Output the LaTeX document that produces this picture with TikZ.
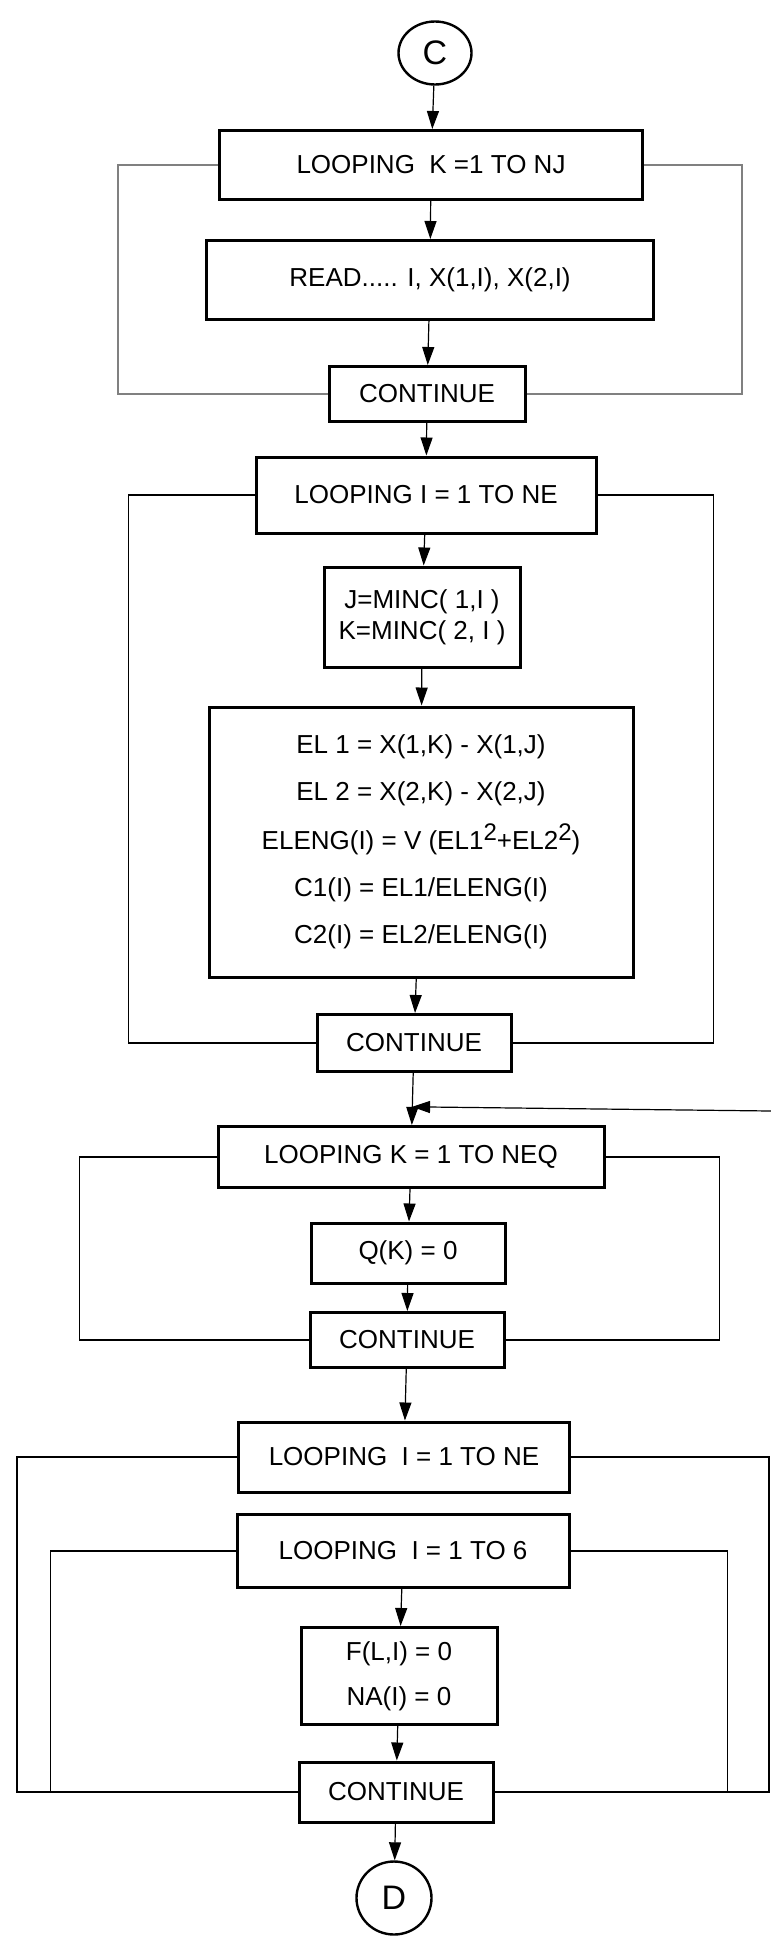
\documentclass[tikz,border=0pt]{standalone}
\usepackage{fontspec}
\setmainfont{Liberation Sans}
\usetikzlibrary{arrows.meta,shapes.geometric,calc}
\tikzset{flowpic/.style={x=0.5pt,y=-0.5pt,font=\fontsize{13}{15.5}\selectfont,
    >={Triangle[length=9pt,width=6pt]}},
  stepbox/.style={draw,line width=1.5pt,inner sep=0pt,align=center},
  connbox/.style={draw,ellipse,line width=1.2pt,inner sep=0pt,font=\fontsize{17}{20}\selectfont},
  arr/.style={->,line width=0.6pt},
  loopline/.style={line width=0.6pt}}
\newcommand{\sqr}{\raisebox{.35em}{\fontsize{12}{12}\selectfont 2}}

\begin{document}
\begin{tikzpicture}[flowpic]
    \useasboundingbox (0,0) rectangle (771,1944);
    \node[connbox,minimum width=36.5pt,minimum height=31.5pt] (cc) at (435,53) {C};
    \node[stepbox,minimum width=211.5pt,minimum height=34.5pt] (lk1) at (431,165) {LOOPING\ \ K =1 TO NJ};
    \node[stepbox,minimum width=223.5pt,minimum height=39.5pt] (rd) at (430,280) {READ..... I, X(1,I), X(2,I)};
    \node[stepbox,minimum width=98pt,minimum height=27.5pt] (ct1) at (427,394) {CONTINUE};
    \node[stepbox,minimum width=170pt,minimum height=38pt] (li1) at (426,495) {LOOPING I = 1 TO NE};
    \node[stepbox,minimum width=98pt,minimum height=50pt] (mc) at (422,617) {J=MINC( 1,I )\\K=MINC( 2, I )};
    \node[stepbox,minimum width=212pt,minimum height=135pt] (el) at (421,842)
      {EL 1 = X(1,K) - X(1,J)\\[8pt] EL 2 = X(2,K) - X(2,J)\\[8pt]
       ELENG(I) = V (EL1\sqr+EL2\sqr)\\[8pt] C1(I) = EL1/ELENG(I)\\[8pt] C2(I) = EL2/ELENG(I)};
    \node[stepbox,minimum width=97pt,minimum height=28.5pt] (ct2) at (414,1043) {CONTINUE};
    \node[stepbox,minimum width=193pt,minimum height=30.5pt] (lk2) at (411,1157) {LOOPING K = 1 TO NEQ};
    \node[stepbox,minimum width=97pt,minimum height=30pt] (qk) at (408,1253) {Q(K) = 0};
    \node[stepbox,minimum width=97pt,minimum height=27.5pt] (ct3) at (407,1340) {CONTINUE};
    \node[stepbox,minimum width=165.5pt,minimum height=35pt] (li2) at (404,1457) {LOOPING\ \ I = 1 TO NE};
    \node[stepbox,minimum width=166pt,minimum height=36.5pt] (li3) at (403,1551) {LOOPING\ \ I = 1 TO 6};
    \node[stepbox,minimum width=98pt,minimum height=48.5pt] (fl) at (399,1676) {F(L,I) = 0\\[7pt] NA(I) = 0};
    \node[stepbox,minimum width=97pt,minimum height=30pt] (ct4) at (396,1792) {CONTINUE};
    \node[connbox,minimum width=37.5pt,minimum height=36.5pt] (dd) at (394,1898) {D};
    \foreach \a/\b in {cc/lk1,lk1/rd,rd/ct1,ct1/li1,li1/mc,mc/el,el/ct2,ct2/lk2,lk2/qk,qk/ct3,ct3/li2,li3/fl,fl/ct4,ct4/dd}
      \draw[arr] (\a) -- (\b);
    % loop returns
    \foreach \a/\b/\l/\r/\c in {lk1/ct1/100/98/black!50,li1/ct2/126/116/black,lk2/ct3/137/114/black,
        li2/ct4/220/198/black,li3/ct4/185/157/black} {
      \draw[loopline,\c] (\a.west) -- ++(-\l,0) |- (\b.west);
      \draw[loopline,\c] (\a.east) -- ++(\r,0) |- (\b.east);
    }
    \coordinate (jn) at ($(ct2.south)!0.65!(lk2.north)$);
    \coordinate (ret) at (771,1111);
    \draw[arr] (ret) -- (jn);
\end{tikzpicture}
\end{document}
